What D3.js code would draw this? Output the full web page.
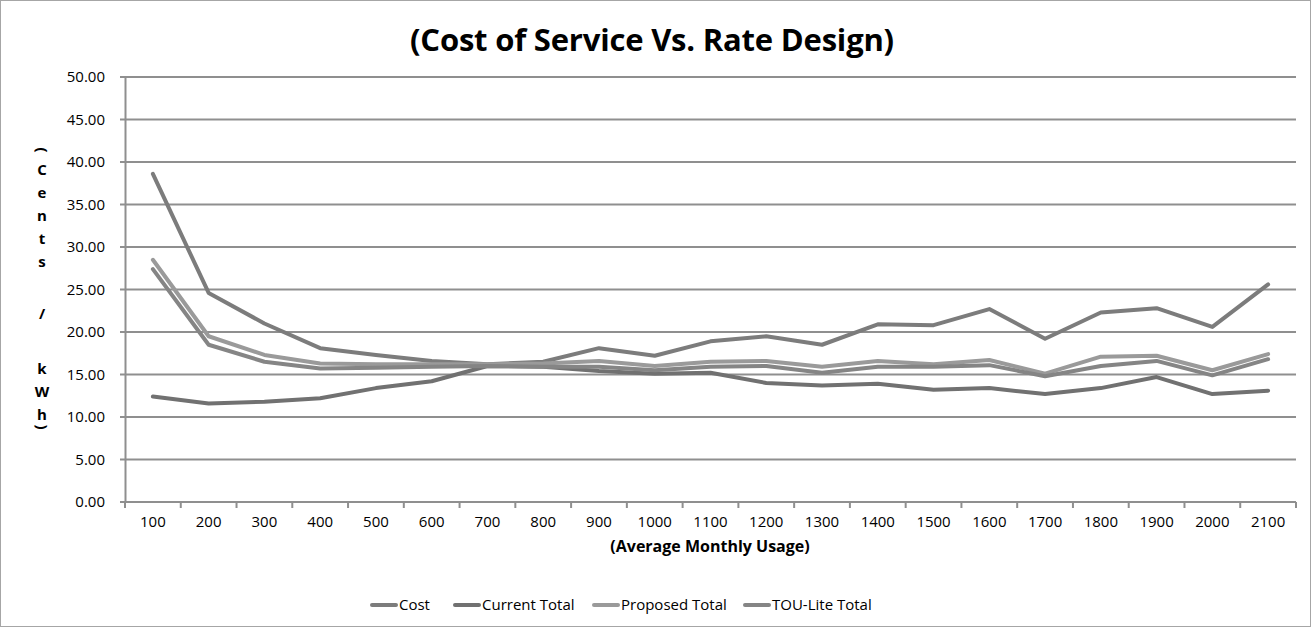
<!DOCTYPE html>
<html>
<head>
<meta charset="utf-8">
<script src="https://cdn.jsdelivr.net/npm/d3@7"></script>
<style>
  html, body { margin: 0; padding: 0; background: #fff; }
  svg { display: block; }
  text { font-family: "Open Sans", "Noto Sans", sans-serif; fill: #000; }
</style>
</head>
<body>
<svg id="chart" width="1312" height="627"></svg>
<script>
// Average monthly usage (kWh) categories
const usage = [100, 200, 300, 400, 500, 600, 700, 800, 900, 1000, 1100,
               1200, 1300, 1400, 1500, 1600, 1700, 1800, 1900, 2000, 2100];

// Cents per kWh for each series
const cost =          [38.6, 24.6, 21.0, 18.1, 17.3, 16.6, 16.2, 16.5, 18.1, 17.2, 18.9,
                       19.5, 18.5, 20.9, 20.8, 22.7, 19.2, 22.3, 22.8, 20.6, 25.6];
const currentTotal =  [12.4, 11.6, 11.8, 12.2, 13.4, 14.2, 16.0, 15.9, 15.4, 15.1, 15.2,
                       14.0, 13.7, 13.9, 13.2, 13.4, 12.7, 13.4, 14.7, 12.7, 13.1];
const proposedTotal = [28.5, 19.5, 17.3, 16.3, 16.2, 16.2, 16.2, 16.3, 16.6, 16.0, 16.5,
                       16.6, 15.9, 16.6, 16.2, 16.7, 15.1, 17.1, 17.2, 15.5, 17.4];
const touLiteTotal =  [27.4, 18.5, 16.5, 15.7, 15.8, 15.9, 16.0, 15.9, 15.9, 15.5, 15.9,
                       16.0, 15.2, 15.9, 15.9, 16.1, 14.8, 16.0, 16.6, 14.9, 16.8];

const seriesNames = ["Cost", "Current Total", "Proposed Total", "TOU-Lite Total"];
const yTicks = [0, 5, 10, 15, 20, 25, 30, 35, 40, 45, 50];

const titleText = "(Cost of Service Vs. Rate Design)";
const xTitle = "(Average Monthly Usage)";
const yTitleChars = ["(", "C", "e", "n", "t", "s", "/", "k", "W", "h", ")"];
// vertical slot of each stacked character (blank slots leave the gaps around "/")
const yTitleSlots = [0, 0.85, 1.85, 2.85, 3.85, 4.85, 7.1, 9.5, 10.5, 11.5, 12.05];

const series = [
  { name: seriesNames[0], values: cost,          color: "#7c7c7c" },
  { name: seriesNames[1], values: currentTotal,  color: "#717171" },
  { name: seriesNames[2], values: proposedTotal, color: "#9a9a9a" },
  { name: seriesNames[3], values: touLiteTotal,  color: "#858585" }
];

const svg = d3.select("#chart");
const W = 1312, H = 627;
const plot = { left: 125, right: 1296, top: 77, bottom: 502 };

// outer chart frame
svg.append("rect")
  .attr("x", 0.5).attr("y", 0.5)
  .attr("width", W - 2).attr("height", H - 1)
  .attr("fill", "#fff").attr("stroke", "#a6a6a6").attr("stroke-width", 1);

const x = d3.scaleBand().domain(usage).range([plot.left, plot.right]).padding(0);
const y = d3.scaleLinear().domain([0, 50]).range([plot.bottom, plot.top]);

// horizontal gridlines
svg.append("g")
  .selectAll("line")
  .data(yTicks)
  .join("line")
  .attr("x1", plot.left - 5).attr("x2", plot.right)
  .attr("y1", d => y(d)).attr("y2", d => y(d))
  .attr("stroke", "#8f8f8f").attr("stroke-width", 2);

// y axis
const yAxis = d3.axisLeft(y).tickValues(yTicks).tickFormat(d3.format(".2f")).tickSize(0).tickPadding(20);
const gy = svg.append("g").attr("transform", `translate(${plot.left},0)`).call(yAxis);
gy.select(".domain").attr("stroke", "#8f8f8f").attr("stroke-width", 2);
gy.selectAll("text").style("font-size", "15px").style("font-family", "'Open Sans', sans-serif").attr("fill", "#000");

// x axis: ticks on category boundaries
const xAxis = d3.axisBottom(x).tickSize(0).tickPadding(14);
const gx = svg.append("g").attr("transform", `translate(0,${plot.bottom})`).call(xAxis);
gx.select(".domain").remove();
gx.selectAll("text").style("font-size", "15px").style("font-family", "'Open Sans', sans-serif").attr("fill", "#000");
const bounds = usage.map(u => x(u)).concat([x(usage[usage.length - 1]) + x.bandwidth()]);
svg.append("g")
  .selectAll("line")
  .data(bounds)
  .join("line")
  .attr("x1", d => d).attr("x2", d => d)
  .attr("y1", plot.bottom).attr("y2", plot.bottom + 6)
  .attr("stroke", "#8f8f8f").attr("stroke-width", 2);

// series lines
const line = d3.line()
  .x((d, i) => x(usage[i]) + x.bandwidth() / 2)
  .y(d => y(d));

svg.append("g")
  .selectAll("path")
  .data(series)
  .join("path")
  .attr("d", d => line(d.values))
  .attr("fill", "none")
  .attr("stroke", d => d.color)
  .attr("stroke-width", 4)
  .attr("stroke-linejoin", "round")
  .attr("stroke-linecap", "round");

// title
svg.append("text")
  .attr("x", 652).attr("y", 51)
  .attr("text-anchor", "middle")
  .style("font-size", "31px").style("font-weight", "bold")
  .style("letter-spacing", "-0.2px")
  .text(titleText);

// x-axis title
svg.append("text")
  .attr("x", 710).attr("y", 552)
  .attr("text-anchor", "middle")
  .style("font-size", "16px").style("font-weight", "bold")
  .text(xTitle);

// stacked y-axis title
const yt = svg.append("g").attr("transform", "translate(42,0)");
yt.selectAll("text")
  .data(yTitleChars)
  .join("text")
  .attr("text-anchor", "middle")
  .attr("transform", (d, i) => {
    const cy = 150 + yTitleSlots[i] * 23;
    return (d === "(" || d === ")") ? `translate(0,${cy}) rotate(90)` : `translate(0,${cy})`;
  })
  .attr("dy", "0.35em")
  .style("font-size", "15px").style("font-weight", "bold")
  .text(d => d);

// legend
const legendX = [372, 455, 594, 745];
const lg = svg.append("g").attr("transform", "translate(0,605)");
const items = lg.selectAll("g").data(series).join("g")
  .attr("transform", (d, i) => `translate(${legendX[i]},0)`);
items.append("line")
  .attr("x1", 0).attr("x2", 24).attr("y1", 0).attr("y2", 0)
  .attr("stroke", d => d.color).attr("stroke-width", 4).attr("stroke-linecap", "round");
items.append("text")
  .attr("x", 27).attr("dy", "0.35em")
  .style("font-size", "15px")
  .text(d => d.name);
</script>
</body>
</html>
